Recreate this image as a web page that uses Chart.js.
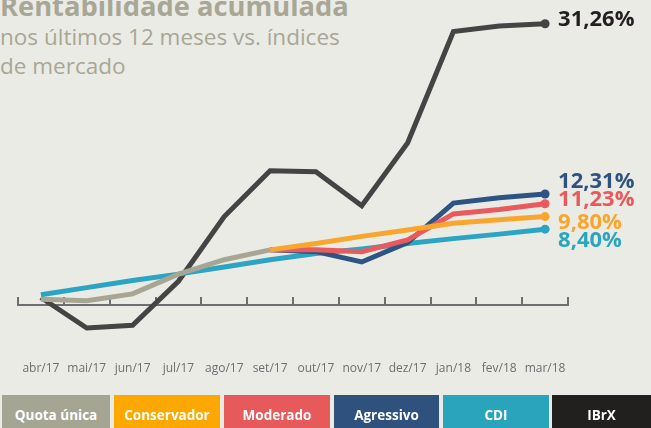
<!DOCTYPE html>
<html><head><meta charset="utf-8">
<script src="https://cdn.jsdelivr.net/npm/chart.js@4"></script>
<style>
html,body{margin:0;padding:0;background:#ebebe5;}
#wrap{position:relative;width:651px;height:428px;overflow:hidden;background:#ebebe5;font-family:"Open Sans",sans-serif;}
#title{position:absolute;left:0;top:-8px;font-weight:700;font-size:27.3px;line-height:28px;color:#a8a795;white-space:nowrap;}
#sub{position:absolute;left:0;top:22px;font-size:22.5px;line-height:29px;color:#a8a795;white-space:nowrap;}
#c{position:absolute;left:0;top:0;}
.lg{position:absolute;top:395px;height:40px;line-height:40px;text-align:center;color:#fff;font-weight:700;font-size:13.5px;white-space:nowrap;}
</style></head>
<body>
<div id="wrap">
  <div id="title">Rentabilidade acumulada</div>
  <div id="sub">nos últimos 12 meses vs. índices<br>de mercado</div>
  <canvas id="c" width="651" height="428"></canvas>
</div>
<script>
// ---- data ----
const months = ['abr/17','mai/17','jun/17','jul/17','ago/17','set/17','out/17','nov/17','dez/17','jan/18','fev/18','mar/18'];
const seriesNames = ['Quota única','Conservador','Moderado','Agressivo','CDI','IBrX'];
const quotaUnica  = [0.6, 0.45, 1.2, 3.4, 5.0, 6.1, null, null, null, null, null, null];
const conservador = [null, null, null, null, null, 6.1, 6.8, 7.6, 8.3, 9.05, 9.45, 9.8];
const moderado    = [null, null, null, null, null, 6.1, 6.1, 5.9, 7.2, 10.1, 10.6, 11.23];
const agressivo   = [null, null, null, null, null, 6.1, 5.9, 4.75, 6.9, 11.3, 11.9, 12.31];
const cdi         = [1.1, 1.9, 2.7, 3.4, 4.2, 5.0, 5.7, 6.2, 6.8, 7.35, 7.85, 8.4];
const ibrx        = [0.8, -2.6, -2.3, 2.6, 9.8, 14.9, 14.8, 11.0, 18.0, 30.4, 31.0, 31.26];
const endLabels   = [null, '9,80%', '11,23%', '12,31%', '8,40%', '31,26%'];

// ---- styles ----
const lineColors   = ['#a7a695','#f8a62e','#e85a5e','#2e5483','#2ba5c1','#444445'];
const labelColors  = [null,'#f9a52b','#e8595d','#2e5381','#2aa5c0','#231f20'];
const legendColors = ['#a5a594','#fda800','#e65a5b','#2f517d','#2aa3bd','#221f1f'];
const labelDy      = [0, 12, 2, -6, 18, 2];
const legendLeft   = [2,114,224,334,443,552];
const legendRight  = [110,220,330,439,549,651];

const allData = [quotaUnica, conservador, moderado, agressivo, cdi, ibrx];

const wrap = document.getElementById('wrap');
seriesNames.forEach((n,i)=>{
  const d = document.createElement('div');
  d.className='lg';
  d.textContent=n;
  d.style.left=legendLeft[i]+'px';
  d.style.width=(legendRight[i]-legendLeft[i])+'px';
  d.style.background=legendColors[i];
  wrap.appendChild(d);
});

const endLabelPlugin = {
  id:'endLabels',
  afterDatasetsDraw(chart){
    const ctx = chart.ctx;
    chart.data.datasets.forEach((ds,i)=>{
      if(!endLabels[i]) return;
      const meta = chart.getDatasetMeta(i);
      const pt = meta.data[meta.data.length-1];
      ctx.save();
      ctx.font = '700 22px "Open Sans"';
      ctx.fillStyle = labelColors[i];
      ctx.textBaseline = 'alphabetic';
      ctx.textAlign = 'left';
      ctx.fillText(endLabels[i], pt.x + 13, pt.y + labelDy[i]);
      ctx.restore();
    });
  }
};

const datasets = allData.map((d,i)=>({
  label: seriesNames[i],
  data: d,
  borderColor: lineColors[i],
  backgroundColor: lineColors[i],
  borderWidth: 5,
  tension: 0,
  fill: false,
  spanGaps: false,
  pointRadius: d.map((v,j)=> (endLabels[i] && j===d.length-1) ? 4.5 : 0),
  pointHoverRadius: 0,
  pointBorderWidth: 0
}));

new Chart(document.getElementById('c'), {
  type:'line',
  data:{ labels: months, datasets },
  options:{
    responsive:false,
    animation:false,
    devicePixelRatio:1,
    layout:{ padding:{ left:18, right:83, top:1, bottom:49 } },
    plugins:{ legend:{display:false}, tooltip:{enabled:false} },
    events:[],
    scales:{
      y:{ display:false, min:-6, max:33.4 },
      x:{
        type:'category', offset:true, position:'bottom',
        grid:{ display:false, drawTicks:false },
        border:{ display:false },
        ticks:{ color:'#6d6e70', font:{ family:'"Open Sans"', size:12 }, padding:3, maxRotation:0, autoSkip:false }
      },
      xz:{
        type:'category', offset:true, position:{ y:0 },
        grid:{ display:true, offset:true, drawOnChartArea:false, drawTicks:true, tickLength:-9, color:'#6d6e70', lineWidth:2 },
        border:{ display:true, color:'#6d6e70', width:2 },
        ticks:{ display:false }
      }
    }
  },
  plugins:[endLabelPlugin]
});
</script>
</body></html>
